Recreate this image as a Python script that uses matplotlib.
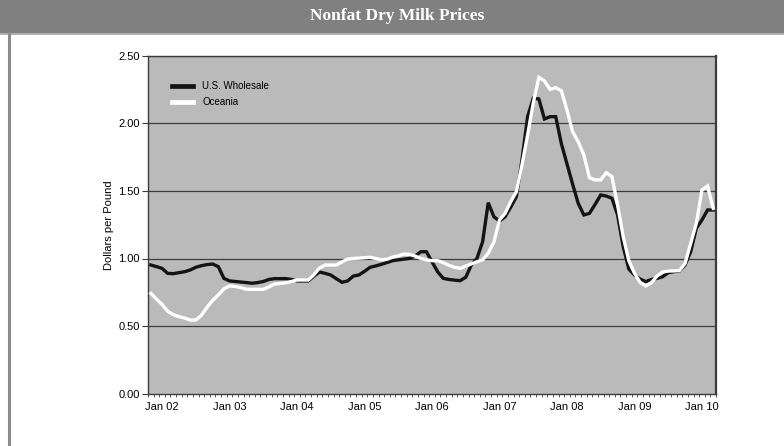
import numpy as np
import pandas as pd
import matplotlib
matplotlib.use("Agg")
import matplotlib.pyplot as plt
from matplotlib.patches import Rectangle
from matplotlib.lines import Line2D

# monthly prices, Nov 2001 .. Mar 2010 (dollars per pound)
months = pd.date_range("2001-11-01", "2010-03-01", freq="MS")

us_wholesale = [
    0.952, 0.94, 0.927, 0.89, 0.888, 0.895, 0.902, 0.915, 0.935, 0.947,
    0.955, 0.959, 0.94, 0.853, 0.834, 0.83, 0.826, 0.822, 0.817, 0.822,
    0.83, 0.845, 0.851, 0.851, 0.851, 0.845, 0.834, 0.834, 0.834, 0.87,
    0.90, 0.89, 0.878, 0.85, 0.824, 0.834, 0.87, 0.878, 0.905, 0.935,
    0.945, 0.957, 0.97, 0.984, 0.99, 0.995, 1.001, 1.018, 1.05, 1.05,
    0.976, 0.902, 0.853, 0.845, 0.84, 0.836, 0.861, 0.952, 1.001, 1.124,
    1.413, 1.309, 1.277, 1.309, 1.38, 1.457, 1.728, 2.049, 2.185, 2.18,
    2.032, 2.049, 2.049, 1.85, 1.70, 1.55, 1.408, 1.322, 1.334, 1.40,
    1.47, 1.462, 1.445, 1.322, 1.087, 0.922, 0.878, 0.848, 0.829, 0.845,
    0.853, 0.865, 0.895, 0.902, 0.907, 0.952, 1.05, 1.223, 1.285, 1.359,
    1.359,
]

oceania = [
    0.742, 0.70, 0.66, 0.61, 0.585, 0.57, 0.56, 0.545, 0.545, 0.58,
    0.64, 0.69, 0.73, 0.775, 0.797, 0.793, 0.785, 0.772, 0.772, 0.772,
    0.772, 0.79, 0.811, 0.815, 0.821, 0.83, 0.841, 0.841, 0.841, 0.88,
    0.93, 0.952, 0.952, 0.952, 0.975, 0.996, 1.0, 1.003, 1.006, 1.009,
    1.0, 0.99, 0.995, 1.01, 1.02, 1.033, 1.03, 1.018, 1.001, 0.99,
    0.984, 0.984, 0.97, 0.95, 0.935, 0.927, 0.944, 0.96, 0.976, 0.99,
    1.04, 1.12, 1.285, 1.334, 1.42, 1.494, 1.692, 1.913, 2.148, 2.34,
    2.313, 2.251, 2.263, 2.241, 2.098, 1.938, 1.864, 1.766, 1.598, 1.581,
    1.581, 1.635, 1.605, 1.396, 1.161, 0.984, 0.891, 0.824, 0.797, 0.82,
    0.87, 0.90, 0.907, 0.908, 0.91, 0.964, 1.112, 1.26, 1.507, 1.536,
    1.371,
]

x = np.arange(len(months))
jan_idx = [i for i, d in enumerate(months) if d.month == 1]
jan_labels = [months[i].strftime("Jan %y") for i in jan_idx]

fig = plt.figure(figsize=(7.84, 4.46), dpi=100)
fig.patch.set_facecolor("white")

# title bar
fig.patches.append(Rectangle((0, 1 - 33 / 446), 1, 33 / 446, transform=fig.transFigure,
                             facecolor="#808080", edgecolor="none", zorder=0))
fig.lines.append(Line2D([0, 1], [1 - 33.5 / 446] * 2, transform=fig.transFigure,
                        color="#a0a0a0", lw=1.2))
fig.lines.append(Line2D([8.5 / 784] * 2, [0, 1 - 33 / 446], transform=fig.transFigure,
                        color="#8c8c8c", lw=2.2))
fig.text(397 / 784, 1 - 16.5 / 446, "Nonfat Dry Milk Prices", ha="center", va="center",
         color="white", fontsize=12.5, fontweight="bold", family="Liberation Serif")

ax = fig.add_axes([148 / 784, 1 - 393.7 / 446, 568 / 784, 338 / 446])
ax.set_facecolor("#bababa")

for v in np.arange(0.5, 2.51, 0.5):
    ax.axhline(v, color="#3c3c3c", lw=0.9, zorder=1)

ax.plot(x, us_wholesale, color="#141414", lw=2.4, label="U.S. Wholesale", zorder=3,
        solid_joinstyle="miter")
ax.plot(x, oceania, color="white", lw=2.4, label="Oceania", zorder=4, solid_joinstyle="miter")

ax.set_xlim(-0.5, len(months) - 0.5)
ax.set_ylim(0, 2.5)
ax.set_yticks(np.arange(0, 2.51, 0.5))
ax.set_yticklabels([f"{v:.2f}" for v in np.arange(0, 2.51, 0.5)])
ax.set_xticks(jan_idx)
ax.set_xticklabels(jan_labels)
ax.set_xticks(np.arange(-0.5, len(months), 1), minor=True)

ax.tick_params(axis="x", which="major", length=0, pad=6, labelsize=8)
ax.tick_params(axis="x", which="minor", length=2.5, width=0.6, color="#3c3c3c", direction="out")
ax.tick_params(axis="y", which="major", length=4, width=0.8, color="#3c3c3c", labelsize=8, pad=2)
for lbl in ax.get_xticklabels() + ax.get_yticklabels():
    lbl.set_family("Liberation Sans")

for s in ["left", "bottom", "top"]:
    ax.spines[s].set_color("#3c3c3c")
    ax.spines[s].set_linewidth(1.0)
ax.spines["right"].set_color("#3c3c3c")
ax.spines["right"].set_linewidth(1.6)

ax.set_ylabel("Dollars per Pound", fontsize=8, family="Liberation Sans", labelpad=3)

leg = ax.legend(loc="upper left", bbox_to_anchor=(0.042, 0.925), frameon=False,
                prop={"family": "Liberation Sans", "size": 7}, handlelength=2.2,
                handletextpad=0.95, labelspacing=0.65, borderpad=0, borderaxespad=0)
for h in leg.legend_handles:
    h.set_linewidth(3.4)

fig.savefig("out.png", dpi=100)
